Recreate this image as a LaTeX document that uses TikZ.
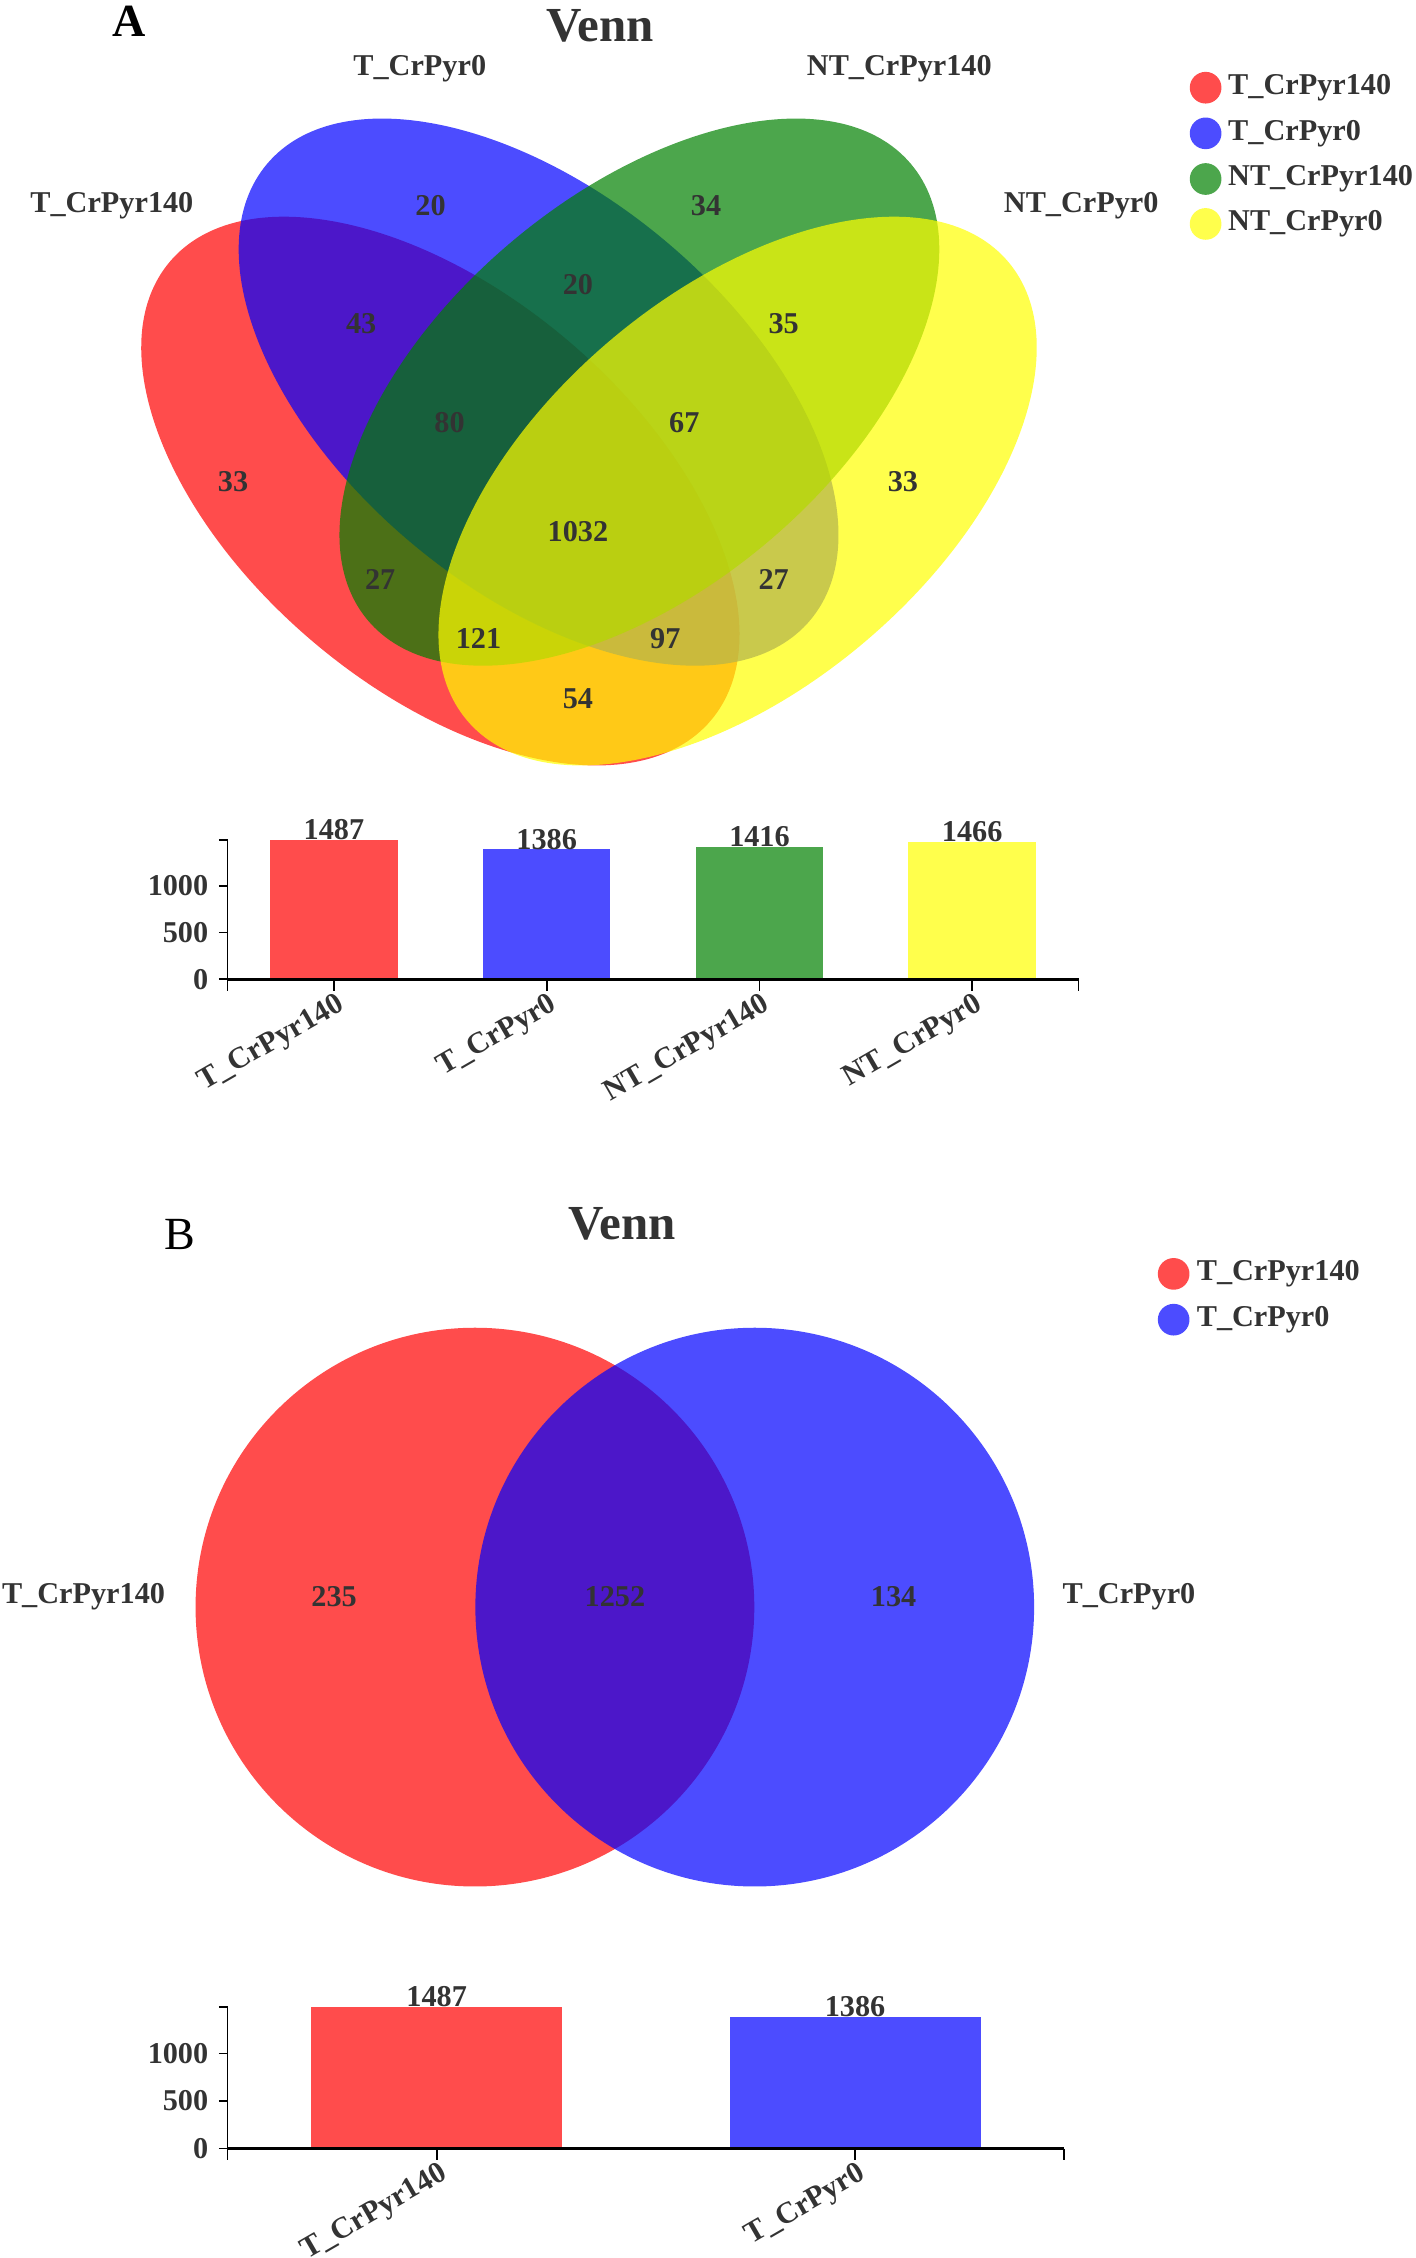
\documentclass[tikz,border=0pt]{standalone}
\usepackage{fontspec}
\setmainfont{Liberation Serif}
\definecolor{vred}{RGB}{255,0,0}
\definecolor{vblue}{RGB}{0,0,255}
\definecolor{vgreen}{RGB}{0,128,0}
\definecolor{vyellow}{RGB}{255,255,0}
\definecolor{txt}{RGB}{51,51,51}
\begin{document}
\begin{tikzpicture}[x=0.5pt,y=0.5pt,
  lbl/.style={font=\fontsize{10.5}{12}\selectfont\bfseries, text=txt, inner sep=0pt},
  ttl/.style={font=\fontsize{17}{20}\selectfont\bfseries, text=txt, inner sep=0pt},
  panel/.style={font=\fontsize{16}{19}\selectfont, text=black, inner sep=0pt},
  setfill/.style={fill=#1, fill opacity=0.7},
  axisline/.style={draw=black, line width=0.6pt},
  xaxisline/.style={draw=black, line width=0.9pt},
  xlab/.style={lbl, rotate=30, anchor=north east},
  ylab/.style={lbl, anchor=east},
  vlab/.style={lbl, anchor=base},
  legtext/.style={lbl, anchor=west},
]
\useasboundingbox (0,0) rectangle (983,-1568);

% ================= Panel A =================
\node[panel, font=\fontsize{16}{19}\selectfont\bfseries] (pA) at (90,-15) {A};
\node[ttl] (tA) at (417,-18) {Venn};

% ellipses
\fill[setfill=vred, rotate around={-40.3:(305.8,-341)}] (305.8,-341) ellipse [x radius=246.3, y radius=137];
\fill[setfill=vblue, rotate around={-40:(374,-272.3)}] (374,-272.3) ellipse [x radius=246.3, y radius=137];
\fill[setfill=vgreen, rotate around={40:(444,-272.3)}] (444,-272.3) ellipse [x radius=246.3, y radius=137];
\fill[setfill=vyellow, rotate around={40.3:(512.2,-341)}] (512.2,-341) ellipse [x radius=246.3, y radius=137];

% set labels
\node[lbl] (sA1) at (77.7,-142.6) {T\_CrPyr140};
\node[lbl] (sA2) at (291.5,-47.6) {T\_CrPyr0};
\node[lbl] (sA3) at (624.5,-47.6) {NT\_CrPyr140};
\node[lbl] (sA4) at (750.8,-142.6) {NT\_CrPyr0};

% region counts
\node[lbl] (nB)    at (299,-142.6) {20};
\node[lbl] (nC)    at (490.3,-142.6) {34};
\node[lbl] (nBC)   at (401.3,-197.5) {20};
\node[lbl] (nAB)   at (250.8,-225) {43};
\node[lbl] (nCD)   at (544.2,-225) {35};
\node[lbl] (nABC)  at (312.2,-293.5) {80};
\node[lbl] (nBCD)  at (475.2,-293.5) {67};
\node[lbl] (nA)    at (161.8,-334.3) {33};
\node[lbl] (nD)    at (627,-334.3) {33};
\node[lbl] (nABCD) at (401.3,-368.8) {1032};
\node[lbl] (nAC)   at (264,-402.6) {27};
\node[lbl] (nBD)   at (537.3,-402.6) {27};
\node[lbl] (nACD)  at (332.3,-443.7) {121};
\node[lbl] (nABD)  at (462,-443.7) {97};
\node[lbl] (nAD)   at (401.3,-485.2) {54};

% legend A
\fill[setfill=vred]    (837.2,-60.9) circle [radius=11];
\fill[setfill=vblue]   (837.2,-92.6) circle [radius=11];
\fill[setfill=vgreen]  (837.2,-124.3) circle [radius=11];
\fill[setfill=vyellow] (837.2,-155.5) circle [radius=11];
\node[legtext] (lA1) at (852.5,-60.9) {T\_CrPyr140};
\node[legtext] (lA2) at (852.5,-92.6) {T\_CrPyr0};
\node[legtext] (lA3) at (852.5,-124.3) {NT\_CrPyr140};
\node[legtext] (lA4) at (852.5,-155.5) {NT\_CrPyr0};

% bar chart A
\fill[setfill=vred]    (187.6,-680) rectangle (276.2,-583.3);
\fill[setfill=vblue]   (335.3,-680) rectangle (423.9,-589.9);
\fill[setfill=vgreen]  (483.1,-680) rectangle (571.7,-588.0);
\fill[setfill=vyellow] (630.8,-680) rectangle (719.4,-584.7);
\node[vlab] (vA1) at (231.9,-583.0) {1487};
\node[vlab] (vA2) at (379.6,-589.6) {1386};
\node[vlab] (vA3) at (527.4,-587.7) {1416};
\node[vlab] (vA4) at (675.1,-584.4) {1466};
\draw[axisline] (158,-583.3) -- (158,-688);
\foreach \yy in {583.3,615,647.5,680} \draw[axisline] (152,-\yy) -- (158,-\yy);
\node[ylab] (yA0) at (145,-680) {0};
\node[ylab] (yA1) at (145,-647.5) {500};
\node[ylab] (yA2) at (145,-615) {1000};
\draw[xaxisline] (158,-680) -- (749,-680);
\foreach \xx in {231.9,379.6,527.4,675.1,749} \draw[axisline] (\xx,-680) -- (\xx,-688);
\node[xlab] (xA1) at (233,-688) {T\_CrPyr140};
\node[xlab] (xA2) at (380.7,-688) {T\_CrPyr0};
\node[xlab] (xA3) at (528.5,-688) {NT\_CrPyr140};
\node[xlab] (xA4) at (676.2,-688) {NT\_CrPyr0};

% ================= Panel B =================
\node[panel] (pB) at (125,-857) {B};
\node[ttl] (tB) at (432,-850) {Venn};

\fill[setfill=vred]  (329.8,-1116) circle [radius=194];
\fill[setfill=vblue] (524.1,-1116) circle [radius=194];

\node[lbl] (sB1) at (58,-1109) {T\_CrPyr140};
\node[lbl] (sB2) at (784,-1109) {T\_CrPyr0};
\node[lbl] (nB1) at (232,-1109) {235};
\node[lbl] (nB12) at (427,-1109) {1252};
\node[lbl] (nB2) at (620.5,-1109) {134};

% legend B
\fill[setfill=vred]  (815,-884.6) circle [radius=11];
\fill[setfill=vblue] (815,-916.4) circle [radius=11];
\node[legtext] (lB1) at (830.7,-884.6) {T\_CrPyr140};
\node[legtext] (lB2) at (830.7,-916.4) {T\_CrPyr0};

% bar chart B
\fill[setfill=vred]  (216.1,-1492) rectangle (390.4,-1393.9);
\fill[setfill=vblue] (506.6,-1492) rectangle (680.9,-1400.5);
\node[vlab] (vB1) at (303.25,-1393.6) {1487};
\node[vlab] (vB2) at (593.75,-1400.2) {1386};
\draw[axisline] (158,-1393.9) -- (158,-1500);
\foreach \yy in {1393.9,1426,1459,1492} \draw[axisline] (152,-\yy) -- (158,-\yy);
\node[ylab] (yB0) at (145,-1492) {0};
\node[ylab] (yB1) at (145,-1459) {500};
\node[ylab] (yB2) at (145,-1426) {1000};
\draw[xaxisline] (158,-1492) -- (739,-1492);
\foreach \xx in {303.25,593.75,739} \draw[axisline] (\xx,-1492) -- (\xx,-1500);
\node[xlab] (xB1) at (304.4,-1500) {T\_CrPyr140};
\node[xlab] (xB2) at (594.9,-1500) {T\_CrPyr0};
\end{tikzpicture}
\end{document}
